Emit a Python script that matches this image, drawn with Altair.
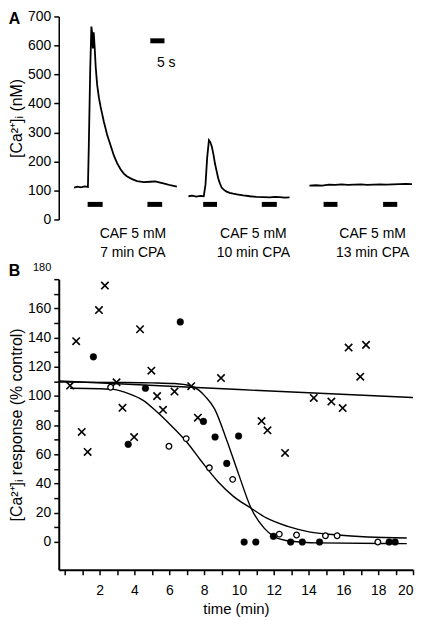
import altair as alt
import pandas as pd

FONT = "Liberation Sans"

# ---------------- Panel A : [Ca2+]i traces (time in s, value in nM) ----------------
trace1_t = [5.3, 6.5, 7.7, 8.9, 10.1, 10.4, 10.9, 11.3, 11.6, 11.8, 12.1, 12.4, 12.8, 13.3, 13.9,
            14.5, 15.6, 16.8, 17.9, 19.1, 20.2, 21.4, 22.5, 23.7, 25.4, 27.1, 29.4, 31.7, 33.4,
            35.1, 36.9, 38.6, 40.9]
trace1_v = [110, 113, 111, 114, 112, 250, 520, 665, 640, 590, 645, 600, 525, 464, 420,
            388, 338, 290, 257, 220, 194, 173, 158, 148, 139, 132, 129, 130, 131,
            127, 123, 118, 113]

trace2_t = [44.9, 46.2, 47.6, 49.0, 50.2, 50.8, 51.4, 52.0, 52.5, 53.0, 53.6, 54.1, 54.7, 55.2,
            55.8, 56.4, 57.2, 58.1, 59.2, 60.4, 62.1, 63.9, 66.2, 68.5, 70.8, 73.1, 74.8, 76.5,
            78.2, 79.9]
trace2_v = [80, 82, 79, 81, 80, 120, 215, 273, 266, 251, 222, 192, 165, 142,
            124, 110, 102, 96, 92, 89, 86, 83, 80, 78, 77, 76, 78, 77,
            75, 76]

trace3_t = [86.8, 89.0, 91.2, 93.5, 95.7, 97.9, 100.1, 102.3, 104.6, 106.8, 109.0, 111.2,
            113.4, 115.7, 117.9, 120.1, 122.3]
trace3_v = [117, 118, 117, 120, 119, 121, 119, 120, 121, 119, 120, 121,
            120, 121, 122, 123, 122]

stim_start = [10.0, 30.7, 50.0, 70.3, 91.7, 112.3]
stim_end = [15.2, 35.8, 54.8, 75.5, 96.5, 117.2]
stim_level = [52, 52, 52, 52, 52, 52]

scalebar_start = [31.7]
scalebar_end = [36.6]
scalebar_level = [616]
scalebar_text = ["5 s"]
scalebar_text_t = [34.0]
scalebar_text_v = [541]

cond_t = [25.5, 67.2, 108.5]
cond_line1 = ["CAF 5 mM", "CAF 5 mM", "CAF 5 mM"]
cond_line2 = ["7 min CPA", "10 min CPA", "13 min CPA"]

# ---------------- Panel B : response vs time (min) ----------------
cross_t = [0.30, 0.65, 0.97, 1.31, 1.96, 2.30, 2.97, 3.31, 3.98, 4.32, 4.97, 5.30, 5.64,
           6.30, 7.26, 7.64, 8.97, 11.30, 11.64, 12.65, 14.30, 15.31, 15.96, 16.30, 16.97, 17.30]
cross_v = [107.1, 137.5, 75.4, 61.7, 158.8, 175.6, 109.4, 91.9, 71.9, 145.7, 117.3, 99.9, 90.5,
           103.0, 106.7, 85.1, 112.3, 82.8, 76.5, 61.0, 98.7, 96.2, 91.7, 133.2, 113.2, 135.0]

filled_t = [1.64, 3.64, 4.63, 6.63, 7.96, 8.63, 9.30, 9.98, 10.30, 10.97, 11.98, 12.97,
            13.64, 14.63, 18.63, 18.97]
filled_v = [126.8, 66.9, 105.3, 150.7, 82.6, 71.9, 53.8, 72.6, 0, 0, 3.9, 0,
            0, 0, 0, 0]

open_t = [2.63, 5.98, 6.97, 8.30, 9.64, 12.32, 13.31, 14.97, 15.64, 17.98]
open_v = [106.0, 65.6, 70.8, 50.8, 42.9, 5.4, 4.8, 4.3, 4.3, 0]

flat_fit_t = [-0.3, 10.0, 20.0]
flat_fit_v = [110.3, 104.4, 98.9]

steep_fit_t = [-0.3, 3.0, 5.0, 6.3, 7.2, 7.7, 8.1, 8.6, 9.3, 10.0, 10.7, 11.45, 12.0, 13.0,
               14.5, 19.64]
steep_fit_v = [109.5, 109.3, 109.0, 108.5, 107.0, 104.0, 99.2, 91.2, 69.7, 45.8, 23.1, 9.5,
               3.9, 0.5, -0.6, -1.1]

open_fit_t = [0.3, 2.0, 2.8, 3.7, 4.5, 5.3, 6.0, 7.0, 7.8, 8.8, 9.7, 10.7, 11.6, 12.8, 14.1,
              15.5, 17.4, 19.64]
open_fit_v = [105.3, 105.0, 104.5, 101.5, 97.0, 89.0, 81.0, 68.5, 56.0, 41.3, 31.1, 23.1,
              16.3, 10.7, 6.8, 5.0, 3.4, 2.7]

# ---------------- data frames ----------------
traces = pd.concat([
    pd.DataFrame({"t": trace1_t, "v": trace1_v, "trace": "1"}),
    pd.DataFrame({"t": trace2_t, "v": trace2_v, "trace": "2"}),
    pd.DataFrame({"t": trace3_t, "v": trace3_v, "trace": "3"}),
])
stims = pd.DataFrame({"t": stim_start, "t2": stim_end, "v": stim_level})
scalebar = pd.DataFrame({"t": scalebar_start, "t2": scalebar_end, "v": scalebar_level})
scaletext = pd.DataFrame({"t": scalebar_text_t, "v": scalebar_text_v, "label": scalebar_text})

cond_expr = " : ".join(
    f"abs(datum.value - {t}) < 0.01 ? ['{a}', '{b}']" for t, a, b in zip(cond_t, cond_line1, cond_line2)
) + " : ''"

curves = pd.concat([
    pd.DataFrame({"t": flat_fit_t, "v": flat_fit_v, "fit": "x"}),
    pd.DataFrame({"t": steep_fit_t, "v": steep_fit_v, "fit": "filled"}),
    pd.DataFrame({"t": open_fit_t, "v": open_fit_v, "fit": "open"}),
])
crosses = pd.DataFrame({"t": cross_t, "v": cross_v})
filled = pd.DataFrame({"t": filled_t, "v": filled_v})
opened = pd.DataFrame({"t": open_t, "v": open_v})

# ---------------- Panel A ----------------
xA = alt.X("t:Q", scale=alt.Scale(domain=[0, 123], nice=False, zero=False),
           axis=alt.Axis(values=cond_t, labelExpr=cond_expr, domain=False, ticks=False,
                         tickSize=0, labelPadding=7, labelFontSize=14, labelLineHeight=19,
                         labelFont=FONT, labelColor="black", labelAngle=0,
                         labelOverlap=False, title=None, grid=False))
yA = alt.Y("v:Q", scale=alt.Scale(domain=[0, 700], nice=False, zero=False),
           axis=alt.Axis(values=list(range(0, 701, 100)), tickSize=5, tickWidth=1.5,
                         tickColor="black", domainColor="black", domainWidth=1.5,
                         labelPadding=3, labelFontSize=14, labelFont=FONT, labelColor="black",
                         title="[Ca²⁺]ᵢ (nM)", titleFont=FONT, titleFontSize=16,
                         titleFontWeight="normal", titleColor="black", titlePadding=3,
                         grid=False))

a_lines = alt.Chart(traces).mark_line(color="black", strokeWidth=1.8, clip=False).encode(
    x=xA, y=yA, detail="trace:N")
a_stims = alt.Chart(stims).mark_rule(color="black", strokeWidth=5, strokeCap="butt").encode(
    x=xA, x2="t2:Q", y=yA)
a_bar = alt.Chart(scalebar).mark_rule(color="black", strokeWidth=5, strokeCap="butt").encode(
    x=xA, x2="t2:Q", y=yA)
a_text = alt.Chart(scaletext).mark_text(align="left", baseline="middle", font=FONT,
                                         fontSize=14, color="black").encode(
    x=xA, y=yA, text="label:N")

panelA = alt.layer(a_lines, a_stims, a_bar, a_text).properties(
    width=357, height=204,
    title=alt.TitleParams("A", anchor="start", font=FONT, fontSize=16, fontWeight="bold",
                          color="black", offset=0, dy=18))

# ---------------- Panel B ----------------
xB = alt.X("t:Q", scale=alt.Scale(domain=[-0.35, 20], nice=False, zero=False),
           axis=alt.Axis(values=list(range(0, 21)),
                         labelExpr="datum.value > 0 && datum.value % 2 == 0 ? datum.label : ''",
                         tickSize=5, tickWidth=1.5, tickColor="black", domainColor="black",
                         domainWidth=2, labelPadding=9, labelFontSize=14, labelFont=FONT,
                         labelColor="black", labelAngle=0, labelOverlap=False,
                         title="time (min)", titleFont=FONT, titleFontSize=15,
                         titleFontWeight="normal", titleColor="black", titlePadding=4,
                         grid=False))
yB = alt.Y("v:Q", scale=alt.Scale(domain=[-19, 180], nice=False, zero=False),
           axis=alt.Axis(values=list(range(0, 181, 10)),
                         labelExpr="datum.value % 20 == 0 ? datum.label : ''",
                         tickSize=5, tickWidth=1.5, tickColor="black", domainColor="black",
                         domainWidth=2, labelPadding=3,
                         labelFontSize={"condition": {"test": "datum.value == 180", "value": 11},
                                        "value": 14},
                         labelOffset={"condition": {"test": "datum.value == 180", "value": -12},
                                      "value": 0},
                         labelFont=FONT, labelColor="black", labelOverlap=False,
                         title="[Ca²⁺]ᵢ response (% control)", titleFont=FONT,
                         titleFontSize=16, titleFontWeight="normal", titleColor="black",
                         titlePadding=3, grid=False))

b_curves = alt.Chart(curves).mark_line(color="black", strokeWidth=1.4,
                                       interpolate="monotone").encode(
    x=xB, y=yB, detail="fit:N")
b_cross = alt.Chart(crosses).mark_point(shape="M-1,-1L1,1M-1,1L1,-1", size=55, filled=False,
                                        stroke="black", strokeWidth=1.6, opacity=1).encode(
    x=xB, y=yB)
b_filled = alt.Chart(filled).mark_point(shape="circle", size=45, filled=True, fill="black",
                                        stroke="black", strokeWidth=0.5, opacity=1).encode(
    x=xB, y=yB)
b_open = alt.Chart(opened).mark_point(shape="circle", size=32, filled=True, fill="white",
                                      stroke="black", strokeWidth=1.3, opacity=1).encode(
    x=xB, y=yB)

panelB = alt.layer(b_curves, b_cross, b_filled, b_open).properties(
    width=356, height=292,
    title=alt.TitleParams("B", anchor="start", font=FONT, fontSize=16, fontWeight="bold",
                          color="black", offset=0, dy=18))

chart = alt.vconcat(panelA, panelB, spacing=2).properties(
    padding={"left": 0, "top": 0, "right": 0, "bottom": 0},
    background="white",
).configure_view(stroke=None)

chart.save("out.html", embed_options={"renderer": "svg", "actions": False})
